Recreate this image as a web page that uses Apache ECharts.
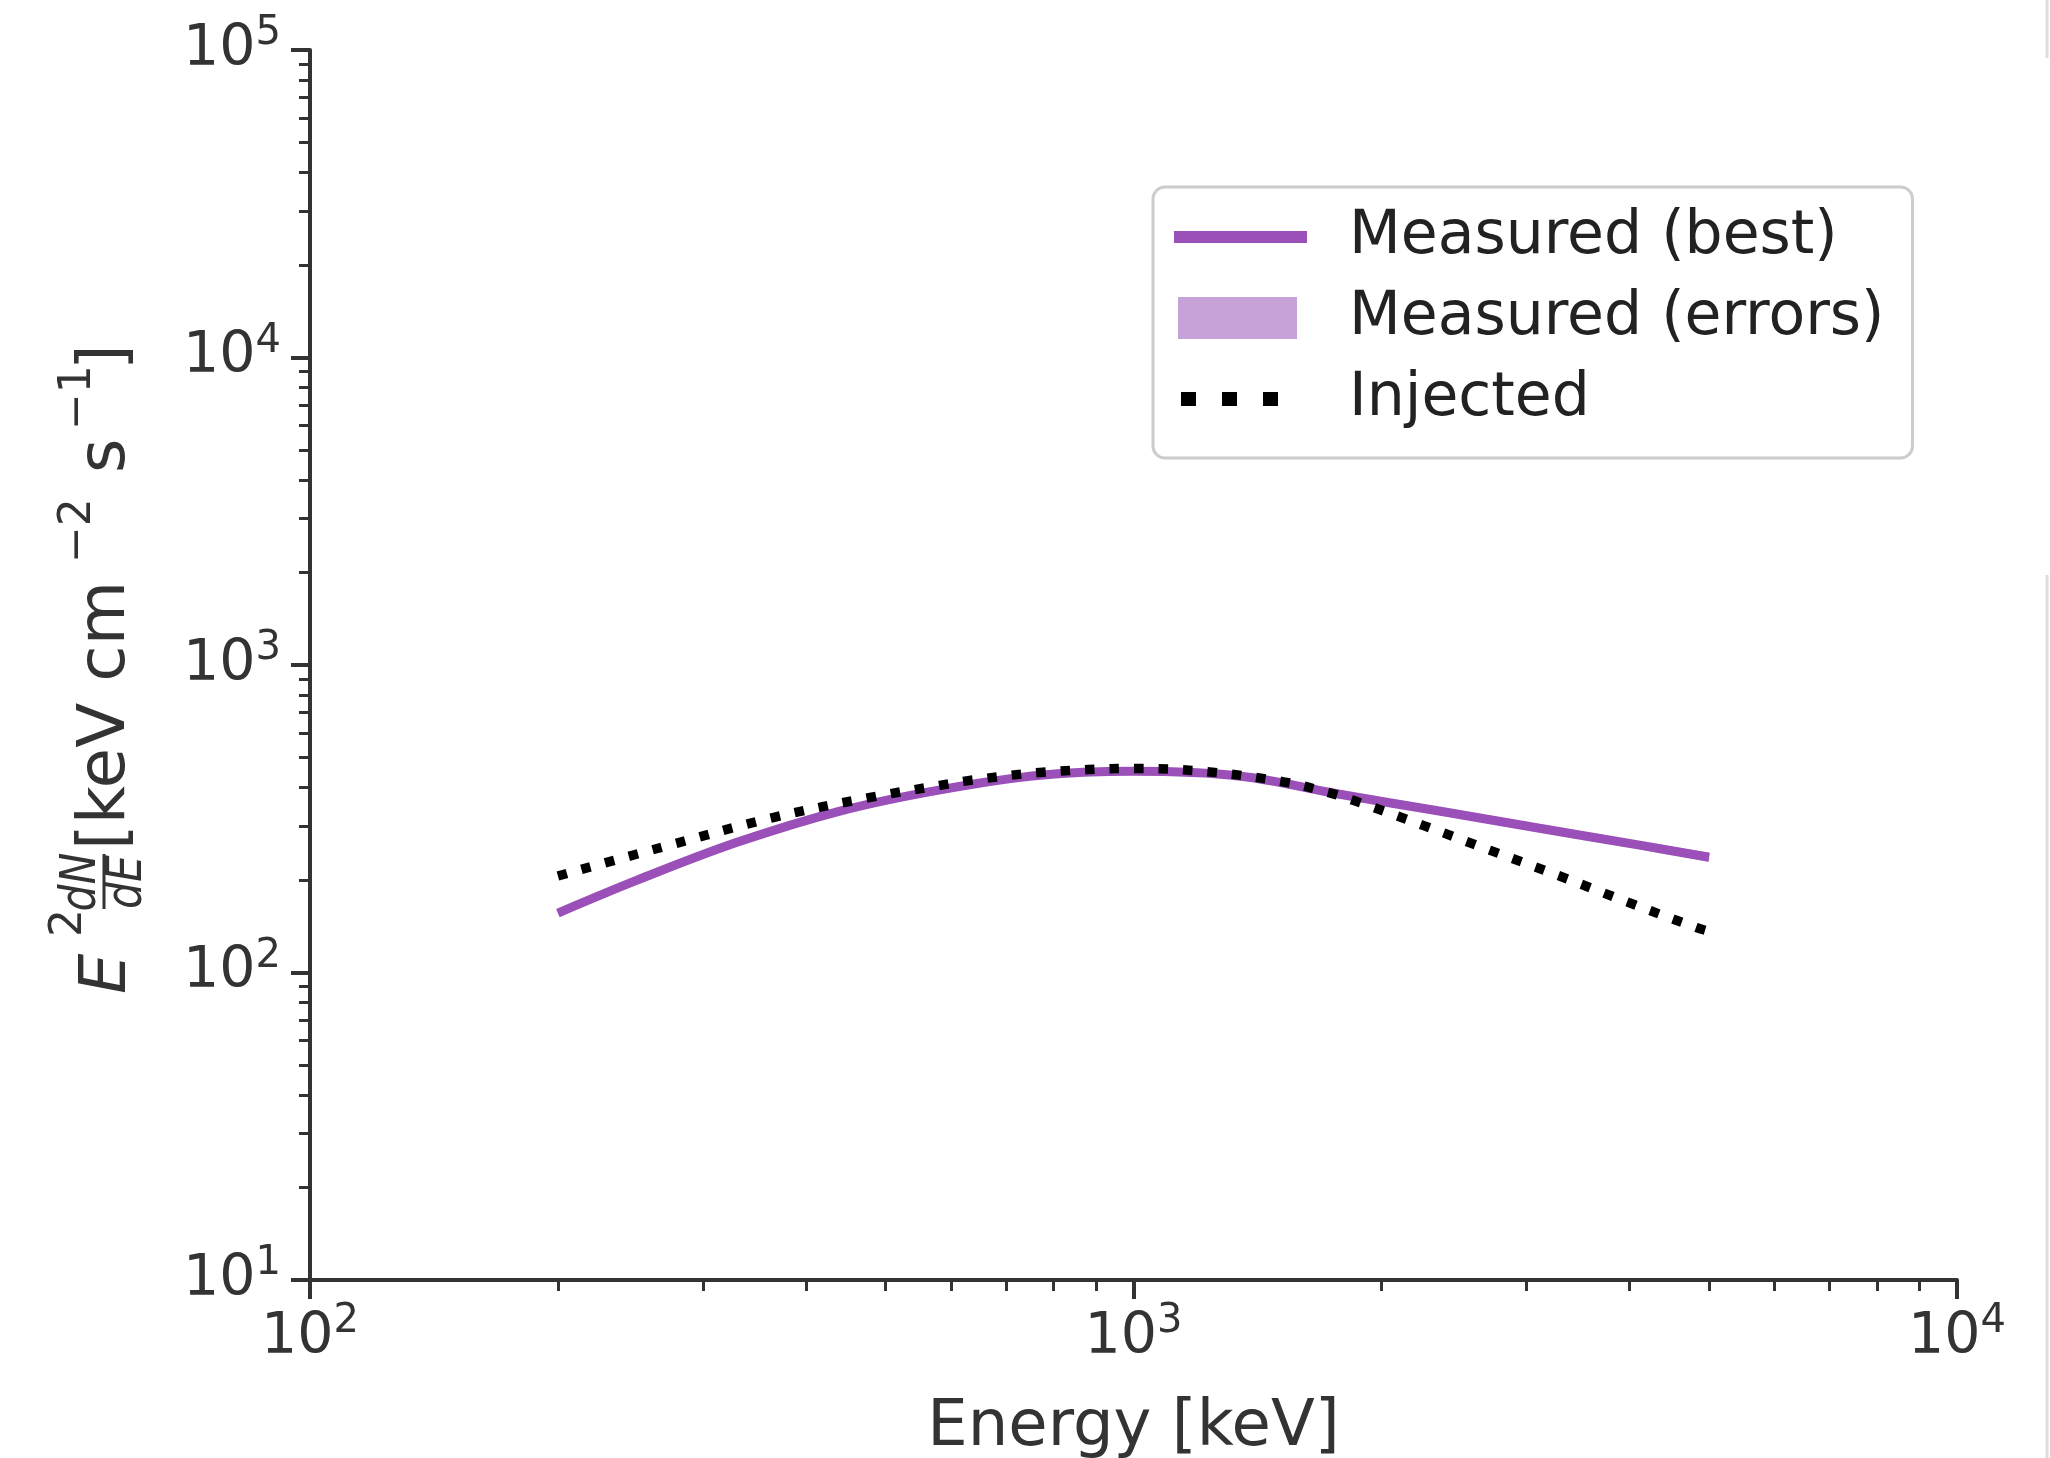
<!DOCTYPE html>
<html><head><meta charset="utf-8">
<script src="https://cdn.jsdelivr.net/npm/echarts@6/dist/echarts.min.js"></script>
<style>html,body{margin:0;padding:0;background:#fff}#c{width:2050px;height:1458px}</style>
</head><body><div id="c"></div>
<script>
// ---- data ----
const energy = [200, 250, 330, 440, 580, 770, 1000, 1350, 1780, 2350, 3100, 4100, 5000];
const measuredBest = [156, 200, 265, 335, 392, 438, 451, 435, 380, 335, 295, 260, 237];
const measuredLow  = [154, 198, 262, 332, 389, 435, 448, 432, 376, 330, 289, 253, 229];
const measuredHigh = [158, 202, 268, 338, 395, 441, 454, 438, 384, 340, 301, 267, 245];
const injectedEnergy = [200, 264, 365, 479, 582, 627, 769, 1008, 1238, 1520, 1731, 1848, 2247, 2707, 3292, 3967, 4825, 5000];
const injectedFlux   = [206, 253, 319, 371, 406, 420, 447, 461, 449, 417, 384, 363, 301, 250, 206, 170, 140, 136];
const xMajorTicks = [100, 1000, 10000];
const xMinorTicks = [200, 300, 400, 500, 600, 700, 800, 900, 2000, 3000, 4000, 5000, 6000, 7000, 8000, 9000];
const yMajorTicks = [10, 100, 1000, 10000, 100000];
const yMinorTicks = [20, 30, 40, 50, 60, 70, 80, 90, 200, 300, 400, 500, 600, 700, 800, 900,
  2000, 3000, 4000, 5000, 6000, 7000, 8000, 9000, 20000, 30000, 40000, 50000, 60000, 70000, 80000, 90000];
const seriesNames = ['Measured (best)', 'Measured (errors)', 'Injected'];
const xTitle = 'Energy [keV]';

// ---- styling ----
const FONT = 'DejaVu Sans';
const TXT = '#333333';
const PURPLE = '#9b4fb8';
const BAND = '#c7a2d8';

const chart = echarts.init(document.getElementById('c'), null, {renderer: 'canvas'});

function supLabel(v) {
  const e = Math.round(Math.log10(v));
  return '{b|10}{s|' + e + '}';
}
const richTick = {
  b: {fontSize: 57, fontFamily: FONT, color: TXT, lineHeight: 72},
  s: {fontSize: 40, fontFamily: FONT, color: TXT, lineHeight: 40, verticalAlign: 'top'}
};

function bandItem(params, api) {
  if (params.dataIndex !== 0) return null;
  const up = [], lo = [];
  for (let i = 0; i < energy.length; i++) {
    up.push(api.coord([energy[i], measuredHigh[i]]));
    lo.push(api.coord([energy[i], measuredLow[i]]));
  }
  const pts = up.concat(lo.reverse());
  return {type: 'polygon', shape: {points: pts}, style: {fill: BAND, stroke: null}};
}

const labelFont = (size, italic) => (italic ? 'italic ' : '') + size + 'px "DejaVu Sans"';
function t(text, x, y, size, italic, align, sx) {
  return {type: 'text', x: x, y: y, scaleX: sx || 1, silent: true,
    style: {text: text, font: labelFont(size, italic), fill: TXT,
      align: align || 'left', verticalAlign: 'middle', textAlign: align || 'left', textVerticalAlign: 'middle'}};
}

// legend icons drawn in a 133 x 42 box (first two moves fix the box extent)
const ICON_LINE = 'path://M0 0M133 42M0 15H133V27H0Z';
const ICON_BAND = 'path://M0 0M133 42M4 0H123V42H4Z';
const ICON_DOTS = 'path://M0 0M133 42M7 14H22V28H7Z M48 14H63V28H48Z M89 14H104V28H89Z';

const option = {
  animation: false,
  backgroundColor: '#ffffff',
  grid: {left: 310, right: 93, top: 50, bottom: 178, containLabel: false, outerBoundsMode: 'none'},
  legend: {
    orient: 'vertical', left: 1153, top: 187,
    itemWidth: 133, itemHeight: 42, itemGap: 21,
    padding: [20, 28, 29, 21],
    backgroundColor: '#ffffff', borderColor: '#cccccc', borderWidth: 3, borderRadius: 12,
    textStyle: {fontSize: 60, fontFamily: FONT, color: '#222222', lineHeight: 60, padding: [0, 0, 0, 37]},
    selectedMode: false,
    data: [
      {name: seriesNames[0], icon: ICON_LINE},
      {name: seriesNames[1], icon: ICON_BAND},
      {name: seriesNames[2], icon: ICON_DOTS}
    ]
  },
  xAxis: [
    {
      type: 'log', logBase: 10, min: 100, max: 10000, position: 'bottom',
      axisLine: {onZero: false, lineStyle: {color: TXT, width: 4}},
      axisTick: {customValues: xMajorTicks, length: 19, lineStyle: {color: TXT, width: 4}},
      axisLabel: {customValues: xMajorTicks, formatter: supLabel, rich: richTick, margin: 22},
      splitLine: {show: false},
      name: xTitle, nameLocation: 'middle', nameGap: 116,
      nameTextStyle: {fontSize: 64, fontFamily: FONT, color: TXT}
    },
    {
      type: 'log', logBase: 10, min: 100, max: 10000, position: 'bottom',
      axisLine: {show: false, onZero: false},
      axisTick: {customValues: xMinorTicks, length: 11, lineStyle: {color: TXT, width: 3}},
      axisLabel: {show: false}, splitLine: {show: false}
    }
  ],
  yAxis: [
    {
      type: 'log', logBase: 10, min: 10, max: 100000, position: 'left',
      axisLine: {show: true, onZero: false, lineStyle: {color: TXT, width: 4}},
      axisTick: {show: true, customValues: yMajorTicks, length: 19, lineStyle: {color: TXT, width: 4}},
      axisLabel: {customValues: yMajorTicks, formatter: supLabel, rich: richTick, margin: 29},
      splitLine: {show: false}
    },
    {
      type: 'log', logBase: 10, min: 10, max: 100000, position: 'left',
      axisLine: {show: false, onZero: false},
      axisTick: {show: true, customValues: yMinorTicks, length: 11, lineStyle: {color: TXT, width: 3}},
      axisLabel: {show: false}, splitLine: {show: false}
    }
  ],
  series: [
    {
      name: seriesNames[1], type: 'custom', renderItem: bandItem, silent: true,
      data: energy.map((e, i) => [e, measuredLow[i], measuredHigh[i]]),
      encode: {x: 0, y: [1, 2]}, itemStyle: {color: BAND}, z: 1
    },
    {
      name: seriesNames[0], type: 'line', smooth: 0.35, symbol: 'none', showSymbol: false,
      data: energy.map((e, i) => [e, measuredBest[i]]),
      lineStyle: {color: PURPLE, width: 9}, itemStyle: {color: PURPLE}, z: 3
    },
    {
      name: seriesNames[2], type: 'line', smooth: 0.35, symbol: 'none', showSymbol: false,
      data: injectedEnergy.map((e, i) => [e, injectedFlux[i]]),
      lineStyle: {color: '#000000', width: 9.5, type: [9.5, 15], cap: 'butt'}, itemStyle: {color: '#000000'}, z: 4
    }
  ],
  graphic: [
    {
      type: 'group', x: 128, y: 994, rotation: Math.PI / 2, silent: true,
      children: [
        t('E', 0, -20, 64, true),
        t('2', 57, -58, 44, false),
        t('dN', 112, -46, 50, true, 'center', 0.85),
        {type: 'line', shape: {x1: 85, y1: -24, x2: 140, y2: -24}, style: {stroke: TXT, lineWidth: 3}, silent: true},
        t('dE', 112, 0, 50, true, 'center', 0.85),
        t('[keV cm', 144, -21, 66, false),
        t('\u22122', 431, -49, 44, false),
        t('s', 521, -21, 66, false),
        t('\u22121', 564, -49, 44, false),
        t(']', 624, -21, 66, false)
      ]
    },
    {type: 'line', shape: {x1: 2047, y1: 0, x2: 2047, y2: 58}, style: {stroke: '#dddddd', lineWidth: 3}, silent: true},
    {type: 'line', shape: {x1: 2047, y1: 575, x2: 2047, y2: 1458}, style: {stroke: '#dddddd', lineWidth: 3}, silent: true}
  ]
};
chart.setOption(option);
</script>
</body></html>
